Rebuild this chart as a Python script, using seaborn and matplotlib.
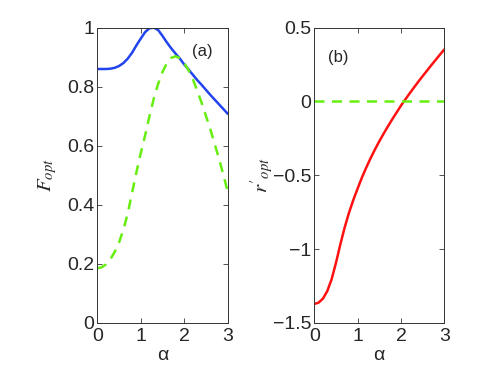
import matplotlib
matplotlib.use("Agg")
import matplotlib.pyplot as plt
import numpy as np
import pandas as pd
import seaborn as sns

# values, step 0.1 in alpha
alpha = np.round(np.arange(0, 3.01, 0.1), 1)

f_opt_solid = [0.860, 0.860, 0.860, 0.861, 0.864, 0.870, 0.880, 0.895, 0.915, 0.940,
               0.963, 0.985, 0.998, 1.000, 0.992, 0.972, 0.950, 0.930, 0.912, 0.895,
               0.875, 0.858, 0.840, 0.822, 0.806, 0.789, 0.772, 0.756, 0.740, 0.724,
               0.708]
f_opt_dashed = [0.185, 0.188, 0.198, 0.215, 0.240, 0.272, 0.315, 0.370, 0.440, 0.510,
                0.575, 0.635, 0.700, 0.760, 0.810, 0.850, 0.880, 0.898, 0.903, 0.897,
                0.880, 0.855, 0.825, 0.785, 0.745, 0.700, 0.655, 0.605, 0.555, 0.500,
                0.443]
r_opt_solid = [-1.372, -1.363, -1.336, -1.285, -1.205, -1.095, -0.970, -0.855, -0.755, -0.668,
               -0.590, -0.515, -0.447, -0.384, -0.325, -0.270, -0.218, -0.168, -0.120, -0.074,
               -0.028, 0.014, 0.055, 0.095, 0.134, 0.172, 0.209, 0.246, 0.282, 0.318,
               0.353]
r_opt_dashed = [0.0] * len(alpha)

x_ticks = [0, 1, 2, 3]
f_ticks = [0, 0.2, 0.4, 0.6, 0.8, 1]
r_ticks = [-1.5, -1, -0.5, 0, 0.5]

BLUE = "#2244ee"
GREEN = "#66ee11"
RED = "#ff1111"

sns.set_theme(style="ticks")
plt.rcParams["font.family"] = ["Liberation Sans", "DejaVu Sans"]
plt.rcParams["mathtext.fontset"] = "stix"
plt.rcParams["axes.unicode_minus"] = True

df_a = pd.DataFrame({"alpha": alpha, "solid": f_opt_solid, "dashed": f_opt_dashed})
df_b = pd.DataFrame({"alpha": alpha, "solid": r_opt_solid, "dashed": r_opt_dashed})

fig = plt.figure(figsize=(4.91, 3.69), dpi=100)
ax1 = fig.add_axes([0.198, 0.125, 0.266, 0.800])
ax2 = fig.add_axes([0.640, 0.125, 0.265, 0.800])

sns.lineplot(data=df_a, x="alpha", y="solid", color=BLUE, lw=1.8, ax=ax1)
sns.lineplot(data=df_a, x="alpha", y="dashed", color=GREEN, lw=1.8,
             linestyle=(0, (4, 3)), ax=ax1)
sns.lineplot(data=df_b, x="alpha", y="solid", color=RED, lw=1.8, ax=ax2)
sns.lineplot(data=df_b, x="alpha", y="dashed", color=GREEN, lw=1.8,
             linestyle=(0, (4, 3)), ax=ax2)

ax1.set_ylim(0, 1)
ax1.set_yticks(f_ticks)
ax1.set_yticklabels(["0", "0.2", "0.4", "0.6", "0.8", "1"])
ax2.set_ylim(-1.5, 0.5)
ax2.set_yticks(r_ticks)
ax2.set_yticklabels(["\u22121.5", "\u22121", "\u22120.5", "0", "0.5"])

for ax in (ax1, ax2):
    ax.set_xlim(0, 3)
    ax.set_xticks(x_ticks)
    ax.set_xlabel("\u03b1", fontsize=14, labelpad=1)
    ax.tick_params(direction="in", length=3.5, width=0.6, top=True, right=True,
                   labelsize=14, pad=2, color="#333333")
    ax.tick_params(axis="x", pad=4)
    for s in ax.spines.values():
        s.set_linewidth(0.7)
        s.set_color("#333333")
        s.set_visible(True)

ax1.set_ylabel("$F_{opt}$", fontsize=15, labelpad=6)
ax2.set_ylabel("$r'_{opt}$", fontsize=15, labelpad=-2)

ax1.text(2.18, 0.92, "(a)", fontsize=12, va="center")
ax2.text(0.32, 0.30, "(b)", fontsize=12, va="center")

fig.savefig("out.png", dpi=100)
plt.close(fig)
